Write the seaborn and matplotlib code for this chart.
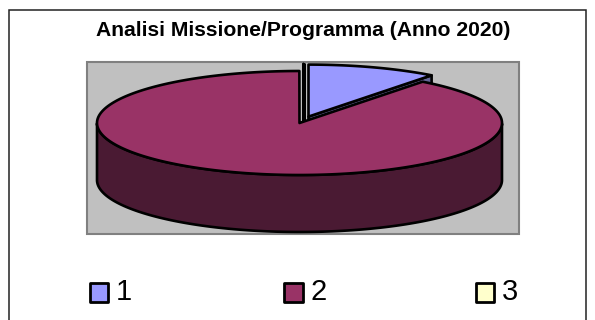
import numpy as np
import matplotlib
matplotlib.use("Agg")
import matplotlib.pyplot as plt
from matplotlib.patches import Polygon, Rectangle
import seaborn as sns

labels = ["1", "2", "3"]
values = [10.4, 89.59, 0.01]
colors = ["#9999FF", "#993366", "#FFFFCC"]
side_colors = ["#666699", "#4A1A33", "#BBBB99"]
title = "Analisi Missione/Programma (Anno 2020)"

sns.set_theme(style="white")
plt.rcParams["font.family"] = ["Liberation Sans", "DejaVu Sans"]

fig = plt.figure(figsize=(5.95, 3.20), dpi=100, facecolor="white")
ax = fig.add_axes([0, 0, 1, 1])
ax.set_xlim(0, 595)
ax.set_ylim(320, 0)
ax.axis("off")

cx, cy, rx, ry, depth = 299.5, 123.0, 202.5, 52.0, 57.0
offsets = [(9, -6.4), (0, 0), (4, -7)]
lw = 1.9

ax.add_patch(Rectangle((9, 10), 577, 320, fc="white", ec="#222222", lw=1.1, zorder=0))
ax.add_patch(Rectangle((87, 62), 432, 172, fc="#C0C0C0", ec="#808080", lw=1.5, zorder=1))

spans = np.cumsum([0] + values) / sum(values) * 2 * np.pi

def pt(a):
    return np.sin(a) * rx, -np.cos(a) * ry

def draw(i, z):
    a0, a1 = spans[i], spans[i + 1]
    x0, y0 = cx + offsets[i][0], cy + offsets[i][1]
    t = np.linspace(a0, a1, 400)
    ex, ey = pt(t)
    ex, ey = ex + x0, ey + y0
    # outer wall: the part of the rim that faces the viewer
    mask = np.cos(t) <= 0
    if mask.any():
        wx, wy = ex[mask], ey[mask]
        wall = np.r_[np.c_[wx, wy], np.c_[wx[::-1], wy[::-1] + depth]]
        ax.add_patch(Polygon(wall, closed=True, fc=side_colors[i], ec="black", lw=lw, joinstyle="round", zorder=z))
    # cut faces that show below the top, for the exploded slices
    if i != 1:
        for (fx, fy) in [(ex[0], ey[0]), (ex[-1], ey[-1])]:
            face = [(x0, y0), (fx, fy), (fx, fy + depth), (x0, y0 + depth)]
            ax.add_patch(Polygon(face, closed=True, fc=side_colors[i], ec="black", lw=lw, joinstyle="round", zorder=z))
    top = np.r_[[[x0, y0]], np.c_[ex, ey]]
    ax.add_patch(Polygon(top, closed=True, fc=colors[i], ec="black", lw=lw, joinstyle="round", zorder=z + 0.1))

draw(0, 2)
draw(2, 3)
draw(1, 4)

ax.text(303, 31, title, ha="center", va="center", fontsize=15.2, fontweight="bold", color="black", zorder=6)

legend_x = [89.5, 284, 475.5]
for lx, c, lab in zip(legend_x, colors, labels):
    ax.add_patch(Rectangle((lx, 283), 18.5, 18.5, fc=c, ec="black", lw=2, joinstyle="round", zorder=6))
    ax.text(lx + 26, 292, lab, ha="left", va="center", fontsize=21, color="black", zorder=6)

fig.savefig("out.png", dpi=100)
